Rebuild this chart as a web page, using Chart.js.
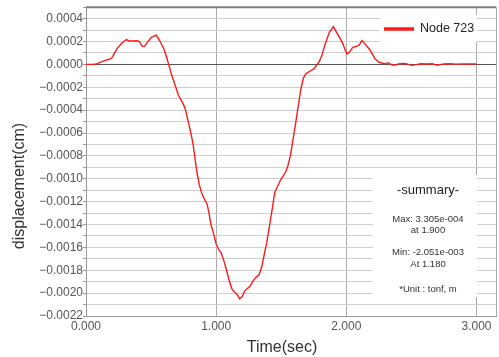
<!DOCTYPE html>
<html>
<head>
<meta charset="utf-8">
<script src="https://cdn.jsdelivr.net/npm/chart.js@4/dist/chart.umd.min.js"></script>
<style>
  html, body { margin: 0; padding: 0; background: #fff; }
  canvas { display: block; }
</style>
</head>
<body>
<canvas id="myChart" width="499" height="357"></canvas>
<script>
// time history of node displacement
const times = [
  0.00, 0.05, 0.08, 0.11, 0.15, 0.18, 0.20, 0.22, 0.24, 0.27,
  0.29, 0.31, 0.33, 0.36, 0.39, 0.41, 0.43, 0.45, 0.47, 0.50,
  0.54, 0.57, 0.60, 0.62, 0.635, 0.66, 0.69, 0.71, 0.74, 0.76,
  0.775, 0.79, 0.805, 0.82, 0.835, 0.85, 0.87, 0.89, 0.915, 0.93,
  0.945, 0.96, 0.98, 1.00, 1.02, 1.04, 1.06, 1.08, 1.10, 1.12,
  1.14, 1.16, 1.18, 1.20, 1.22, 1.24, 1.26, 1.28, 1.30, 1.33,
  1.35, 1.37, 1.39, 1.41, 1.43, 1.45, 1.47, 1.50, 1.53, 1.55,
  1.57, 1.59, 1.61, 1.63, 1.65, 1.67, 1.69, 1.72, 1.75, 1.77,
  1.79, 1.81, 1.83, 1.85, 1.87, 1.90, 1.92, 1.945, 1.97, 1.99,
  2.005, 2.025, 2.05, 2.08, 2.10, 2.12, 2.15, 2.18, 2.20, 2.22,
  2.25, 2.28, 2.30, 2.32, 2.35, 2.38, 2.40, 2.43, 2.46, 2.50,
  2.53, 2.57, 2.62, 2.66, 2.70, 2.75, 2.80, 2.84, 2.90, 2.95, 3.00
];
const disp = [
  0, 0, 0.000003, 0.00002, 0.000035, 0.000045, 0.00006, 0.0001, 0.00014, 0.00018,
  0.0002, 0.000216, 0.000205, 0.000205, 0.000206, 0.0002, 0.00016, 0.000158, 0.00019, 0.000235,
  0.000255, 0.0002, 0.00013, 0.00006, 0.0, -0.0001, -0.0002, -0.00027, -0.00033, -0.00038,
  -0.00045, -0.00052, -0.0006, -0.00068, -0.0008, -0.00093, -0.00105, -0.00113, -0.00119, -0.00122,
  -0.0013, -0.0014, -0.00148, -0.00157, -0.00162, -0.00165, -0.00172, -0.0018, -0.00189, -0.00196,
  -0.00199, -0.00201, -0.002051, -0.00203, -0.00198, -0.00196, -0.00194, -0.0019, -0.00187, -0.00184,
  -0.00177, -0.00166, -0.00155, -0.00141, -0.00127, -0.00112, -0.00107, -0.001, -0.00095, -0.00089,
  -0.0008, -0.00066, -0.00052, -0.00037, -0.00022, -0.00012, -0.00008, -0.00006, -0.00004, -0.00001,
  0.00002, 0.00007, 0.00015, 0.00022, 0.00028, 0.0003305, 0.00029, 0.00024, 0.00019, 0.00013,
  0.00009, 0.00011, 0.00015, 0.00016, 0.00017, 0.00021, 0.00017, 0.00013, 0.00009, 0.00005,
  0.00002, 0.00001, 0.000005, 0.000015, -0.000005, -0.000005, 0.000005, 0.000008, 0.000006, -0.000008,
  -0.000004, 0.000006, 0.000003, 0.000005, -0.000008, 0.000004, 0.000005, 0.000002, 0.000004, 0.000004, 0.000004
];
const seriesLabel = 'Node 723';
const xTickValues = [0, 1, 2, 3];
const yStep = 0.0001;
const xTitle = 'Time(sec)';
const yTitle = 'displacement(cm)';

function fmtExp(v) {
  let e = Math.floor(Math.log10(Math.abs(v)));
  let m = v / Math.pow(10, e);
  return m.toFixed(3) + 'e' + (e < 0 ? '-' : '+') + String(Math.abs(e)).padStart(3, '0');
}

// max / min for the summary box
let iMax = 0, iMin = 0;
disp.forEach((v, i) => {
  if (v > disp[iMax]) iMax = i;
  if (v < disp[iMin]) iMin = i;
});
const summaryLines = [
  'Max: ' + fmtExp(disp[iMax]), 'at ' + times[iMax].toFixed(3),
  'Min: ' + fmtExp(disp[iMin]), 'At ' + times[iMin].toFixed(3),
  '*Unit : tonf, m'
];

const FONT = '"Liberation Sans", Arial, sans-serif';

const extras = {
  id: 'extras',
  afterDraw(chart) {
    const c = chart.ctx;
    const a = chart.chartArea;
    c.save();
    // top + right frame
    c.strokeStyle = '#808080';
    c.lineWidth = 2;
    c.beginPath();
    c.moveTo(a.left, a.top);
    c.lineTo(a.right, a.top);
    c.stroke();
    c.strokeStyle = '#aaa';
    c.lineWidth = 1;
    c.beginPath();
    c.moveTo(a.right + 0.5, a.top);
    c.lineTo(a.right + 0.5, a.bottom);
    c.stroke();

    // legend
    c.fillStyle = '#fff';
    c.fillRect(380, 15, 97, 27);
    c.strokeStyle = chart.data.datasets[0].borderColor;
    c.lineWidth = 3.5;
    c.beginPath();
    c.moveTo(384, 29);
    c.lineTo(414, 29);
    c.stroke();
    c.fillStyle = '#222';
    c.font = '12.5px ' + FONT;
    c.textAlign = 'left';
    c.textBaseline = 'middle';
    c.fillText(chart.data.datasets[0].label, 420, 29);

    // summary box
    c.fillStyle = '#fff';
    c.fillRect(373, 175, 104, 122);
    c.fillStyle = '#222';
    c.textAlign = 'center';
    c.font = '13px ' + FONT;
    c.fillText('-summary-', 428, 190);
    c.fillStyle = '#333';
    c.font = '9.5px ' + FONT;
    const ys = [219, 230, 252, 264, 289];
    summaryLines.forEach((s, i) => c.fillText(s, 428, ys[i]));

    // axis titles
    c.fillStyle = '#333';
    c.font = '16px ' + FONT;
    c.fillText(xTitle, 282, 348);
    c.translate(20, 186);
    c.rotate(-Math.PI / 2);
    c.fillText(yTitle, 0, 0);
    c.restore();
  }
};

new Chart(document.getElementById('myChart'), {
  type: 'line',
  data: {
    datasets: [{
      label: seriesLabel,
      data: times.map((t, i) => ({ x: t, y: disp[i] })),
      borderColor: '#ff1a1a',
      borderWidth: 1.4,
      pointRadius: 0,
      tension: 0
    }]
  },
  options: {
    responsive: false,
    animation: false,
    layout: { padding: { left: 0, top: 5, right: 3, bottom: 0 } },
    plugins: { legend: { display: false }, tooltip: { enabled: false } },
    scales: {
      x: {
        type: 'linear',
        min: 0,
        max: 3.15,
        afterBuildTicks: s => { s.ticks = xTickValues.map(v => ({ value: v })); },
        afterFit: s => { s.height = 41; },
        ticks: {
          callback: v => v.toFixed(3),
          color: '#555',
          font: { family: FONT, size: 12 },
          padding: 3,
          maxRotation: 0,
          autoSkip: false
        },
        grid: {
          color: ctx => ctx.tick && ctx.tick.value === 0 ? 'rgba(0,0,0,0)' : '#aaa',
          drawTicks: false
        },
        border: { color: '#999' }
      },
      y: {
        min: -0.0022,
        max: 0.0005,
        afterFit: s => { s.width = 86; },
        ticks: {
          stepSize: yStep,
          autoSkip: false,
          padding: 0,
          color: '#555',
          font: { family: FONT, size: 12 },
          callback: v => {
            const n = Math.round(v / yStep);
            if (Math.abs(n) % 2 !== 0) return '';
            return (n < 0 ? '\u2212' : '') + Math.abs(n * yStep).toFixed(4);
          }
        },
        grid: {
          color: ctx => ctx.tick && Math.abs(ctx.tick.value) < 1e-9 ? '#555' : '#cfcfcf',
          tickLength: 3,
          tickColor: '#999'
        },
        border: { color: '#999' }
      }
    }
  },
  plugins: [extras]
});
</script>
</body>
</html>
